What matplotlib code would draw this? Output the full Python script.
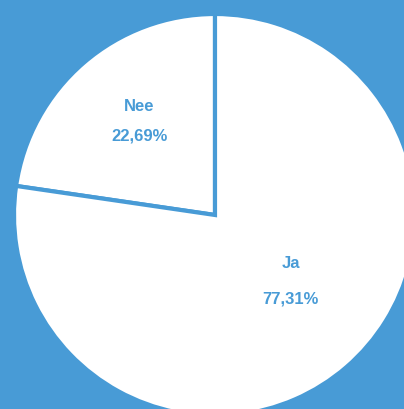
import numpy as np
import matplotlib.pyplot as plt

# donnees
labels = ["Nee", "Ja"]
waarden = [22.69, 77.31]
pct_tekst = ["22,69%", "77,31%"]

blauw = "#489bd6"

fig = plt.figure(figsize=(4.04, 4.09), dpi=100, facecolor=blauw)
ax = fig.add_axes([0, 0, 1, 1])
ax.set_facecolor(blauw)

wedges, _ = ax.pie(waarden, startangle=90, counterclock=True, colors=["white", "white"],
                   wedgeprops=dict(edgecolor=blauw, linewidth=3))

# echelle : 201 px par unite, centre a (215,215) px
r_px = 201.0
ax.set_xlim(-215 / r_px, (404 - 215) / r_px)
ax.set_ylim(-(409 - 215) / r_px, 215 / r_px)
ax.set_aspect("auto")
ax.axis("off")

# position des textes (distance, decalage angle, ecart label/pct)
reglages = [(0.60, -2, 15), (0.50, 8, 18)]
for w, lab, pct, (d, da, ecart) in zip(wedges, labels, pct_tekst, reglages):
    hoek = np.deg2rad((w.theta1 + w.theta2) / 2 + da)
    x, y = d * np.cos(hoek), d * np.sin(hoek)
    ax.annotate(lab, (x, y), xytext=(0, ecart * 0.72), textcoords="offset points",
                ha="center", va="center", color=blauw, fontsize=12,
                fontweight="bold", family="Liberation Sans")
    ax.annotate(pct, (x, y), xytext=(0, -ecart * 0.72), textcoords="offset points",
                ha="center", va="center", color=blauw, fontsize=12,
                fontweight="bold", family="Liberation Sans")

fig.savefig("out.png", dpi=100, facecolor=blauw)
